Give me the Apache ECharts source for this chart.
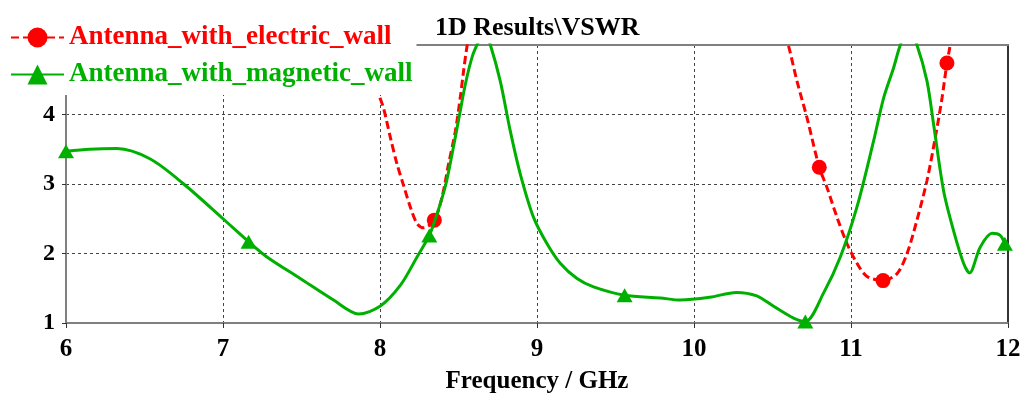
<!DOCTYPE html>
<html>
<head>
<meta charset="utf-8">
<script src="https://cdn.jsdelivr.net/npm/echarts@6/dist/echarts.min.js"></script>
<style>
  html, body { margin: 0; padding: 0; background: #ffffff; }
  #chart { width: 1021px; height: 394px; }
</style>
</head>
<body>
<div id="chart"></div>
<script>
// VSWR versus frequency for the two antenna variants
const xTicks = [6, 7, 8, 9, 10, 11, 12];
const yTicks = [1, 2, 3, 4, 5];

const electricName = 'Antenna_with_electric_wall';
const electricFreq = [7.90, 7.991, 8.023, 8.066, 8.108, 8.15, 8.193, 8.236, 8.278, 8.346, 8.395, 8.437, 8.48, 8.511, 8.532, 8.554,
  8.60, 8.80, 9.20, 9.60, 10.00, 10.40, 10.55, 10.603, 10.656, 10.72, 10.798, 10.847, 10.911, 10.975, 11.038, 11.102,
  11.204, 11.293, 11.357, 11.42, 11.484, 11.537, 11.58, 11.611, 11.628, 11.70];
const electricVswr = [5.6, 4.31, 4.09, 3.67, 3.29, 2.98, 2.67, 2.43, 2.37, 2.48, 2.81, 3.29, 3.76, 4.24, 4.62, 4.98,
  5.6, 7.0, 8.0, 8.5, 8.0, 6.5, 5.4, 4.98, 4.48, 3.95, 3.24, 2.95, 2.52, 2.14, 1.86, 1.67,
  1.61, 1.71, 2.0, 2.48, 3.05, 3.67, 4.24, 4.74, 4.95, 6.0];
const electricMarks = [8.346, 10.798, 11.204, 11.611];

const magneticName = 'Antenna_with_magnetic_wall';
const magneticFreq = [6.0, 6.15, 6.325, 6.537, 6.75, 7.0, 7.163, 7.28, 7.492, 7.704, 7.864, 8.0, 8.129, 8.236, 8.314,
  8.365, 8.42, 8.465, 8.507, 8.545, 8.59, 8.628, 8.665, 8.703, 8.766, 8.83, 8.894, 8.978, 9.064, 9.148, 9.255, 9.36, 9.558, 9.785,
  9.913, 10.1, 10.27, 10.4, 10.507, 10.634, 10.709, 10.825, 10.932, 11.038, 11.144, 11.208, 11.271, 11.314, 11.365,
  11.42, 11.484, 11.526, 11.59, 11.653, 11.717, 11.755, 11.823, 11.898, 11.95, 11.98];
const magneticVswr = [3.47, 3.50, 3.51, 3.36, 3.00, 2.50, 2.17, 1.95, 1.64, 1.33, 1.13, 1.24, 1.54, 1.95, 2.26,
  2.58, 3.0, 3.5, 4.0, 4.45, 4.85, 5.05, 5.2, 5.0, 4.48, 3.76, 3.14, 2.52, 2.14, 1.86, 1.64, 1.52, 1.40, 1.36,
  1.33, 1.37, 1.44, 1.39, 1.24, 1.07, 1.02, 1.43, 1.95, 2.67, 3.62, 4.24, 4.67, 5.0, 5.25,
  5.0, 4.48, 3.86, 2.90, 2.33, 1.86, 1.72, 2.09, 2.29, 2.26, 2.14];
const magneticMarks = [6.0, 7.163, 8.314, 9.558, 10.709, 11.98];

const RED = '#ff0000';
const GREEN = '#00b000';
const FONT = '"Liberation Serif", "Times New Roman", serif';

function buildData(freq, vswr, marks) {
  return freq.map((f, i) => {
    const item = { value: [f, vswr[i]] };
    if (marks.indexOf(f) < 0) item.symbol = 'none';
    return item;
  });
}

const chart = echarts.init(document.getElementById('chart'), null, { renderer: 'canvas' });

chart.setOption({
  animation: false,
  backgroundColor: '#ffffff',
  title: {
    text: '1D Results\\VSWR',
    left: 435,
    top: 15,
    padding: 0,
    textStyle: { fontFamily: FONT, fontWeight: 'bold', fontSize: 26, color: '#000' }
  },
  legend: {
    orient: 'vertical',
    left: 0,
    top: 0,
    padding: [24, 4, 7, 10],
    itemGap: 10,
    itemWidth: 53,
    itemHeight: 25,
    backgroundColor: '#ffffff',
    z: 10,
    textStyle: { fontFamily: FONT, fontWeight: 'bold', fontSize: 27 },
    data: [
      { name: electricName, textStyle: { color: RED } },
      { name: magneticName, textStyle: { color: GREEN } }
    ]
  },
  grid: { left: 66, right: 13, top: 45, bottom: 71, outerBoundsMode: 'none', containLabel: false },
  xAxis: [{
    type: 'value',
    min: 6,
    max: 12,
    interval: 1,
    name: 'Frequency / GHz',
    nameLocation: 'middle',
    nameGap: 46,
    nameTextStyle: { fontFamily: FONT, fontWeight: 'bold', fontSize: 25, color: '#000' },
    axisLine: { show: true, lineStyle: { color: '#808080', width: 2 } },
    axisTick: { show: true, length: 5, lineStyle: { color: '#333', width: 1 } },
    axisLabel: {
      margin: 14,
      fontFamily: FONT, fontWeight: 'bold', fontSize: 25, color: '#000',
      formatter: v => (xTicks.indexOf(v) >= 0 ? String(v) : '')
    },
    splitLine: { show: true, lineStyle: { color: '#444', width: 1, type: [3, 3] } }
  }, {
    type: 'value',
    position: 'top',
    min: 6,
    max: 12,
    interval: 1,
    axisLine: { show: true, onZero: false, lineStyle: { color: '#808080', width: 2 } },
    axisTick: { show: false },
    axisLabel: { show: false },
    splitLine: { show: false }
  }],
  yAxis: [{
    type: 'value',
    min: 1,
    max: 5,
    interval: 1,
    axisLine: { show: true, lineStyle: { color: '#808080', width: 2 } },
    axisTick: { show: true, length: 4, lineStyle: { color: '#333', width: 1 } },
    axisLabel: {
      margin: 11,
      fontFamily: FONT, fontWeight: 'bold', fontSize: 24, color: '#000',
      formatter: v => (yTicks.indexOf(v) >= 0 ? String(v) : '')
    },
    splitLine: { show: true, lineStyle: { color: '#444', width: 1, type: [3, 3] } }
  }, {
    type: 'value',
    position: 'right',
    min: 1,
    max: 5,
    interval: 1,
    axisLine: { show: true, onZero: false, lineStyle: { color: '#333', width: 2 } },
    axisTick: { show: false },
    axisLabel: { show: false },
    splitLine: { show: false }
  }],
  series: [{
    name: electricName,
    type: 'line',
    xAxisIndex: 0,
    yAxisIndex: 0,
    smooth: 0.3,
    clip: true,
    symbol: 'circle',
    symbolSize: 15,
    showSymbol: true,
    color: RED,
    lineStyle: { color: RED, width: 3, type: [8, 4] },
    itemStyle: { color: RED },
    z: 3,
    data: buildData(electricFreq, electricVswr, electricMarks)
  }, {
    name: magneticName,
    type: 'line',
    xAxisIndex: 0,
    yAxisIndex: 0,
    smooth: 0.3,
    clip: true,
    symbol: 'triangle',
    symbolSize: [16, 14],
    showSymbol: true,
    color: GREEN,
    lineStyle: { color: GREEN, width: 3 },
    itemStyle: { color: GREEN },
    z: 4,
    data: buildData(magneticFreq, magneticVswr, magneticMarks)
  }]
});
</script>
</body>
</html>
